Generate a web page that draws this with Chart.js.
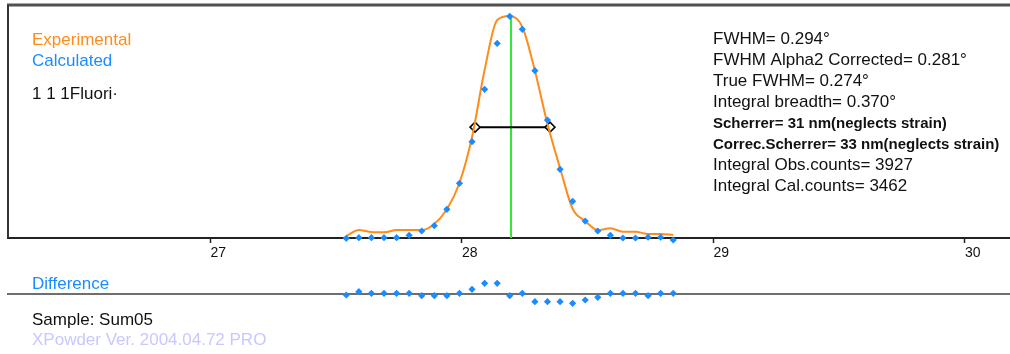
<!DOCTYPE html>
<html>
<head>
<meta charset="utf-8">
<script src="https://cdn.jsdelivr.net/npm/chart.js@4.4.1/dist/chart.umd.min.js"></script>
<style>
  html, body { margin: 0; padding: 0; background: #fff; }
  #wrap { width: 1010px; height: 354px; position: relative; overflow: hidden; }
  #mainBox { position: absolute; left: 0; top: 0; width: 1010px; height: 270px; }
  #diffBox { position: absolute; left: 0; top: 270px; width: 1010px; height: 84px; }
</style>
</head>
<body>
<div id="wrap">
  <div id="mainBox"><canvas id="mainChart"></canvas></div>
  <div id="diffBox"><canvas id="diffChart"></canvas></div>
</div>
<script>
// 2-theta steps of the scan
const twoTheta = [27.54, 27.59, 27.64, 27.69, 27.74, 27.79, 27.84, 27.89, 27.94, 27.99,
                  28.04, 28.09, 28.14, 28.19, 28.24, 28.29, 28.34, 28.39, 28.44, 28.49,
                  28.54, 28.59, 28.64, 28.69, 28.74, 28.79, 28.84];
const experimental = [95, 380, 285, 270, 380, 380, 380, 670, 1370, 2630,
                      4830, 8030, 10420, 10610, 10090, 8000, 5450, 3345, 1400, 810,
                      380, 465, 300, 300, 190, 190, 145];
const calculated = [-15, 15, 15, 15, 15, 130, 335, 590, 1370, 2615,
                    4605, 7110, 9305, 10600, 9975, 8000, 5640, 3285, 1755, 810,
                    335, 130, 0, 0, 35, 35, -95];
const difference = [-100, 230, 70, 70, 70, 70, -170, -170, -170, 70,
                    470, 1070, 1070, -170, 70, -770, -770, -770, -930, -600,
                    -330, 70, 70, 70, -170, 70, 70];
const xTicks = [27, 28, 29, 30];

const peakPos = 28.195;
const peakTop = 10600;
const fwhmEnds = [28.052, 28.350];

const infoLines = [
  "FWHM= 0.294°",
  "FWHM Alpha2 Corrected= 0.281°",
  "True FWHM= 0.274°",
  "Integral breadth= 0.370°",
  "Scherrer= 31 nm(neglects strain)",
  "Correc.Scherrer= 33 nm(neglects strain)",
  "Integral Obs.counts= 3927",
  "Integral Cal.counts= 3462"
];
const smallLines = [4, 5];

const X_MIN = 26.195, X_MAX = 30.179;
const ORANGE = "#ff8c1a", BLUE = "#1a8cff";
const FONT = "Liberation Sans, Arial, sans-serif";

const pts = (ys) => twoTheta.map((x, i) => ({ x: x, y: ys[i] }));

const mainDecor = {
  id: "mainDecor",
  beforeDatasetsDraw(chart) {
    const { ctx, chartArea: a } = chart;
    ctx.save();
    ctx.strokeStyle = "#505050";
    ctx.lineWidth = 3;
    ctx.beginPath();
    ctx.moveTo(a.left - 1, a.top);
    ctx.lineTo(a.right, a.top);
    ctx.stroke();
    ctx.strokeStyle = "#333";
    ctx.lineWidth = 2;
    ctx.beginPath();
    ctx.moveTo(a.left, a.top);
    ctx.lineTo(a.left, a.bottom);
    ctx.stroke();
    ctx.restore();
  },
  afterDraw(chart) {
    const ctx = chart.ctx;
    ctx.save();
    ctx.textBaseline = "alphabetic";
    ctx.textAlign = "left";
    ctx.font = "17px " + FONT;
    ctx.fillStyle = ORANGE;
    ctx.fillText("Experimental", 32, 45);
    ctx.fillStyle = BLUE;
    ctx.fillText("Calculated", 32, 66);
    ctx.fillStyle = "#111";
    ctx.fillText("1 1 1Fluori·", 32, 99);

    infoLines.forEach((t, i) => {
      ctx.font = smallLines.includes(i) ? "bold 15px " + FONT : "17px " + FONT;
      ctx.fillText(t, 713, 44 + i * 21);
    });
    ctx.restore();
  }
};

const diffDecor = {
  id: "diffDecor",
  beforeDatasetsDraw(chart) {
    const { ctx, chartArea: a } = chart;
    const y0 = chart.scales.y.getPixelForValue(0);
    ctx.save();
    ctx.strokeStyle = "#6e6e6e";
    ctx.lineWidth = 2;
    ctx.beginPath();
    ctx.moveTo(a.left - 1, y0);
    ctx.lineTo(a.right, y0);
    ctx.stroke();
    ctx.restore();
  },
  afterDraw(chart) {
    const ctx = chart.ctx;
    ctx.save();
    ctx.textBaseline = "alphabetic";
    ctx.font = "17px " + FONT;
    ctx.fillStyle = BLUE;
    ctx.fillText("Difference", 32, 19);
    ctx.fillStyle = "#111";
    ctx.fillText("Sample: Sum05", 32, 55);
    ctx.fillStyle = "#c8c8ff";
    ctx.fillText("XPowder Ver. 2004.04.72 PRO", 32, 75);
    ctx.restore();
  }
};

new Chart(document.getElementById("mainChart"), {
  type: "line",
  data: {
    datasets: [
      {
        label: "Peak",
        data: [{ x: peakPos, y: 0 }, { x: peakPos, y: peakTop }],
        borderColor: "#33e833",
        borderWidth: 2,
        pointRadius: 0,
        order: 4
      },
      {
        label: "FWHM",
        data: fwhmEnds.map((x) => ({ x: x, y: peakTop / 2 })),
        borderColor: "#000",
        borderWidth: 2,
        pointStyle: "rectRot",
        pointRadius: 5,
        pointBackgroundColor: "#fff",
        pointBorderColor: "#000",
        pointBorderWidth: 1.5,
        order: 3
      },
      {
        label: "Experimental",
        data: pts(experimental),
        borderColor: ORANGE,
        borderWidth: 2,
        pointRadius: 0,
        cubicInterpolationMode: "monotone",
        order: 2
      },
      {
        label: "Calculated",
        data: pts(calculated),
        showLine: false,
        pointStyle: "rectRot",
        pointRadius: 3.6,
        pointBackgroundColor: BLUE,
        pointBorderWidth: 0,
        clip: false,
        order: 1
      }
    ]
  },
  options: {
    responsive: true,
    maintainAspectRatio: false,
    animation: false,
    layout: { autoPadding: false, padding: { top: 5, left: 8, right: 0, bottom: 0 } },
    plugins: { legend: { display: false }, tooltip: { enabled: false } },
    scales: {
      x: {
        type: "linear",
        min: X_MIN,
        max: X_MAX,
        afterBuildTicks: (s) => { s.ticks = xTicks.map((v) => ({ value: v })); },
        afterFit: (s) => { s.height = 32; },
        grid: { drawOnChartArea: false, color: "#222", tickLength: 5, tickWidth: 1.5 },
        border: { color: "#222", width: 2 },
        ticks: { align: "start", padding: 2, color: "#111", font: { family: FONT, size: 14 } }
      },
      y: { display: false, min: 0, max: 11140 }
    }
  },
  plugins: [mainDecor]
});

new Chart(document.getElementById("diffChart"), {
  type: "line",
  data: {
    datasets: [
      {
        label: "Difference",
        data: pts(difference),
        showLine: false,
        pointStyle: "rectRot",
        pointRadius: 3.6,
        pointBackgroundColor: BLUE,
        pointBorderWidth: 0
      }
    ]
  },
  options: {
    responsive: true,
    maintainAspectRatio: false,
    animation: false,
    layout: { autoPadding: false, padding: { top: 10, left: 8, right: 0, bottom: 46 } },
    plugins: { legend: { display: false }, tooltip: { enabled: false } },
    scales: {
      x: { type: "linear", display: false, min: X_MIN, max: X_MAX },
      y: { display: false, min: -1400, max: 1400 }
    }
  },
  plugins: [diffDecor]
});
</script>
</body>
</html>
